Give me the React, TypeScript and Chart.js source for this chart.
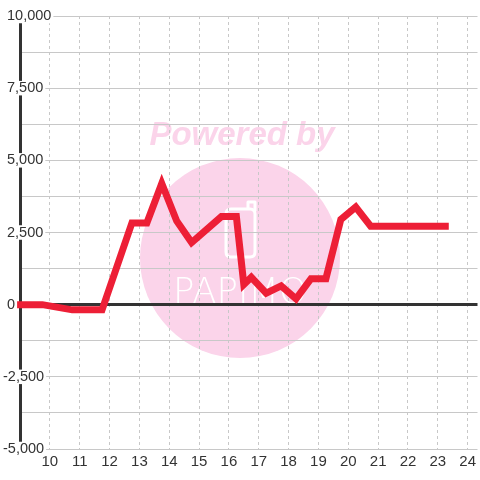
import React, { useEffect, useRef } from 'react';
import { Chart, registerables } from 'chart.js';

Chart.register(...registerables);

// ---- data ----
const hours = [9, 9.75, 10.75, 11.75, 12.75, 13.25, 13.75, 14.25, 14.75, 15.75, 16.25, 16.5, 16.75, 17.25, 17.75, 18.25, 18.75, 19.25, 19.75, 20.25, 20.75, 23.25];
const values = [0, 0, -180, -180, 2830, 2830, 4200, 2900, 2150, 3050, 3050, 700, 950, 400, 650, 200, 900, 900, 2950, 3380, 2720, 2720];
const xMin = 9;
const xMax = 24.33;
const xStep = 1;
const yMin = -5000;
const yMax = 10000;
const yStep = 1250;
const yLabelStep = 2500;
const watermarkTitle = 'Powered by';
const watermarkBrand = 'PAPIMO';

const FONT = '"Liberation Sans", Arial, sans-serif';
const LINE_RED = '#ed1f36';
const PINK = '#fbd4ea';

const watermarkPlugin = {
  id: 'watermark',
  beforeDraw(chart: any) {
    const { ctx } = chart;
    ctx.save();
    ctx.fillStyle = PINK;
    ctx.beginPath();
    ctx.arc(240, 258, 100, 0, Math.PI * 2);
    ctx.fill();

    ctx.font = `bold italic 33px ${FONT}`;
    ctx.textAlign = 'center';
    ctx.textBaseline = 'alphabetic';
    ctx.fillText(watermarkTitle, 242, 145);

    // icon outline
    ctx.strokeStyle = '#ffffff';
    ctx.lineWidth = 3;
    ctx.lineJoin = 'round';
    ctx.beginPath();
    const x0 = 226, y0 = 209, w = 29, h = 48, r = 5;
    ctx.moveTo(x0 + r, y0);
    ctx.lineTo(x0 + w - r, y0);
    ctx.quadraticCurveTo(x0 + w, y0, x0 + w, y0 + r);
    ctx.lineTo(x0 + w, y0 + h - r);
    ctx.quadraticCurveTo(x0 + w, y0 + h, x0 + w - r, y0 + h);
    ctx.lineTo(x0 + r, y0 + h);
    ctx.quadraticCurveTo(x0, y0 + h, x0, y0 + h - r);
    ctx.lineTo(x0, y0 + r);
    ctx.quadraticCurveTo(x0, y0, x0 + r, y0);
    ctx.stroke();
    ctx.beginPath();
    ctx.moveTo(x0 + w - 7, y0);
    ctx.lineTo(x0 + w - 7, y0 - 7);
    ctx.lineTo(x0 + w, y0 - 7);
    ctx.lineTo(x0 + w, y0 + 2);
    ctx.stroke();

    ctx.fillStyle = '#ffffff';
    ctx.font = `200 36px "DejaVu Sans", sans-serif`;
    ctx.fillText(watermarkBrand, 240, 303, 134);
    ctx.restore();
  },
};

export default function App() {
  const ref = useRef<HTMLCanvasElement | null>(null);

  useEffect(() => {
    if (!ref.current) return;
    const chart = new Chart(ref.current, {
      type: 'line',
      data: {
        datasets: [
          {
            data: hours.map((h, i) => ({ x: h, y: values[i] })),
            borderColor: LINE_RED,
            backgroundColor: LINE_RED,
            borderWidth: 7,
            pointRadius: 0,
            tension: 0,
            fill: false,
            borderCapStyle: 'square',
            borderJoinStyle: 'miter',
            clip: false,
          } as any,
        ],
      },
      options: {
        animation: false,
        responsive: false,
        events: [],
        layout: { padding: { left: 2, top: 16, right: 0, bottom: 5 } },
        plugins: {
          legend: { display: false },
          tooltip: { enabled: false },
          title: { display: false },
        },
        scales: {
          x: {
            type: 'linear',
            min: xMin,
            max: xMax,
            bounds: 'data',
            grid: { color: '#c8c8c8', lineWidth: 1, drawTicks: false },
            border: { display: false, dash: [3, 3] },
            ticks: {
              stepSize: xStep,
              includeBounds: false,
              autoSkip: false,
              maxRotation: 0,
              minRotation: 0,
              padding: 4,
              color: '#333333',
              font: { family: FONT, size: 15 },
              callback: (v: any) => (Number(v) === xMin ? '' : String(v)),
            },
          },
          y: {
            type: 'linear',
            min: yMin,
            max: yMax,
            afterFit: (s: any) => {
              s.width = 18;
            },
            grid: {
              color: (c: any) => (c.tick && c.tick.value === 0 ? '#333333' : '#c8c8c8'),
              lineWidth: (c: any) => (c.tick && c.tick.value === 0 ? 3 : 1),
              drawTicks: false,
            },
            border: { display: true, color: '#333333', width: 3 },
            ticks: {
              stepSize: yStep,
              mirror: true,
              padding: -17,
              z: 1,
              showLabelBackdrop: true,
              backdropColor: '#ffffff',
              backdropPadding: { left: 2, right: 2, top: 0, bottom: 0 },
              color: '#333333',
              font: { family: FONT, size: 14.5, lineHeight: 1 },
              callback: (v: any) => {
                const n = Number(v);
                if (n % yLabelStep !== 0) return '';
                const s = Math.abs(n).toLocaleString('en-US');
                return n < 0 ? '-' + s : ' ' + s;
              },
            },
          },
        },
      } as any,
      plugins: [watermarkPlugin],
    });
    return () => chart.destroy();
  }, []);

  return (
    <div style={{ position: 'fixed', left: 0, top: 0, width: 480, height: 480, background: '#ffffff' }}>
      <canvas ref={ref} width={480} height={480} style={{ display: 'block' }} />
    </div>
  );
}
